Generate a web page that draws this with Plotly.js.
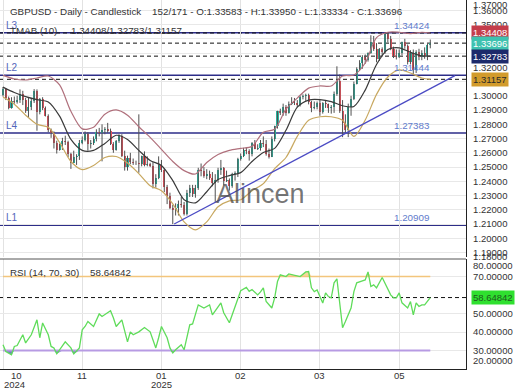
<!DOCTYPE html>
<html>
<head>
<meta charset="utf-8">
<script src="https://cdn.plot.ly/plotly-3.0.1.min.js"></script>
<style>
html,body{margin:0;padding:0;background:#ffffff;}
#chart{width:520px;height:390px;}
</style>
</head>
<body>
<div id="chart"></div>
<script>
// ---------------- DATA ----------------
const opens = [1.3005,1.3050,1.2985,1.2917,1.2965,1.2960,1.2970,1.3012,1.2970,1.2895,
1.2918,1.2963,1.3035,1.2885,1.2975,1.2915,1.2860,1.2760,1.2740,1.2670,
1.2620,1.2660,1.2680,1.2675,1.2590,1.2530,1.2570,1.2575,1.2670,1.2690,
1.2735,1.2660,1.2670,1.2700,1.2745,1.2740,1.2760,1.2765,1.2755,1.2665,
1.2620,1.2685,1.2715,1.2580,1.2500,1.2565,1.2535,1.2530,1.2528,1.2520,
1.2575,1.2515,1.2518,1.2510,1.2380,1.2420,1.2515,1.2480,1.2360,1.2300,
1.2210,1.2200,1.2210,1.2240,1.2235,1.2170,1.2320,1.2350,1.2310,1.2350,
1.2480,1.2470,1.2440,1.2450,1.2420,1.2390,1.2410,1.2480,1.2490,1.2400,
1.2410,1.2370,1.2450,1.2455,1.2560,1.2580,1.2620,1.2610,1.2590,1.2670,
1.2630,1.2635,1.2670,1.2665,1.2590,1.2570,1.2700,1.2790,1.2890,1.2880,
1.2920,1.2880,1.2940,1.2960,1.2950,1.2935,1.2990,1.3000,1.3005,1.2960,
1.2915,1.2920,1.2950,1.2885,1.2950,1.2945,1.2915,1.2918,1.3010,1.3105,
1.2890,1.2810,1.2760,1.2920,1.2975,1.3085,1.3190,1.3230,1.3270,1.3250,
1.3300,1.3380,1.3330,1.3255,1.3325,1.3310,1.3435,1.3400,1.3330,1.3280,
1.3270,1.3300,1.3375,1.3350,1.3240,1.3300,1.3180,1.3310,1.3270,1.3300,
1.3280,1.33583];
const highs = [1.3062,1.3055,1.2995,1.2990,1.2995,1.3000,1.3045,1.3035,1.2985,1.2990,
1.2985,1.3047,1.3045,1.2985,1.2990,1.2925,1.2870,1.2770,1.2750,1.2685,
1.2665,1.2705,1.2720,1.2685,1.2600,1.2615,1.2590,1.2690,1.2715,1.2750,
1.2745,1.2690,1.2715,1.2765,1.2775,1.2800,1.2780,1.2810,1.2770,1.2675,
1.2690,1.2730,1.2730,1.2615,1.2580,1.2600,1.2560,1.2545,1.2870,1.2580,
1.2610,1.2575,1.2530,1.2535,1.2450,1.2575,1.2550,1.2490,1.2375,1.2320,
1.2235,1.2245,1.2265,1.2290,1.2255,1.2340,1.2375,1.2375,1.2375,1.2495,
1.2525,1.2500,1.2485,1.2475,1.2465,1.2450,1.2495,1.2550,1.2500,1.2475,
1.2420,1.2460,1.2470,1.2565,1.2595,1.2635,1.2640,1.2625,1.2675,1.2690,
1.2660,1.2690,1.2715,1.2690,1.2630,1.2715,1.2790,1.2895,1.2910,1.2945,
1.2935,1.2960,1.2990,1.2985,1.2970,1.3000,1.3010,1.3015,1.3015,1.2965,
1.2960,1.2960,1.2970,1.2955,1.2965,1.2945,1.2935,1.3030,1.3207,1.3150,
1.2970,1.2870,1.2945,1.3000,1.3100,1.3200,1.3250,1.3285,1.3290,1.3305,
1.3425,1.3420,1.3370,1.3335,1.3340,1.3443,1.3440,1.3420,1.3345,1.3325,
1.3325,1.3380,1.3400,1.3360,1.3320,1.3325,1.3320,1.3330,1.3320,1.3340,
1.3365,1.33950];
const lows = [1.2995,1.2970,1.2905,1.2910,1.2945,1.2945,1.2950,1.2935,1.2880,1.2845,
1.2900,1.2950,1.2755,1.2870,1.2900,1.2855,1.2745,1.2705,1.2630,1.2595,
1.2615,1.2620,1.2655,1.2570,1.2487,1.2530,1.2515,1.2550,1.2660,1.2680,
1.2615,1.2630,1.2655,1.2680,1.2715,1.2540,1.2730,1.2740,1.2655,1.2600,
1.2615,1.2670,1.2570,1.2475,1.2475,1.2520,1.2515,1.2515,1.2460,1.2505,
1.2505,1.2505,1.2500,1.2350,1.2355,1.2415,1.2465,1.2325,1.2240,1.2205,
1.2100,1.2160,1.2160,1.2215,1.2160,1.2160,1.2290,1.2290,1.2285,1.2340,
1.2435,1.2425,1.2415,1.2410,1.2365,1.2250,1.2390,1.2445,1.2370,1.2395,
1.2335,1.2355,1.2405,1.2430,1.2545,1.2570,1.2590,1.2545,1.2575,1.2625,
1.2620,1.2615,1.2640,1.2580,1.2560,1.2570,1.2680,1.2770,1.2865,1.2860,
1.2860,1.2875,1.2935,1.2935,1.2920,1.2925,1.2975,1.2965,1.2940,1.2885,
1.2905,1.2905,1.2860,1.2875,1.2915,1.2880,1.2875,1.2880,1.3000,1.2880,
1.2710,1.2740,1.2710,1.2860,1.2970,1.3080,1.3175,1.3190,1.3225,1.3240,
1.3295,1.3315,1.3235,1.3245,1.3275,1.3295,1.3375,1.3320,1.3265,1.3255,
1.3265,1.3285,1.3330,1.3220,1.3220,1.3140,1.3160,1.3250,1.3250,1.3260,
1.3250,1.33334];
const closes = [1.3050,1.2985,1.2917,1.2965,1.2960,1.2970,1.3012,1.2970,1.2895,1.2918,
1.2963,1.3035,1.2885,1.2975,1.2915,1.2860,1.2760,1.2740,1.2670,1.2620,
1.2660,1.2680,1.2675,1.2590,1.2530,1.2570,1.2575,1.2670,1.2690,1.2735,
1.2660,1.2670,1.2700,1.2745,1.2740,1.2760,1.2765,1.2755,1.2665,1.2620,
1.2685,1.2715,1.2580,1.2500,1.2565,1.2535,1.2530,1.2528,1.2520,1.2575,
1.2515,1.2518,1.2510,1.2380,1.2420,1.2515,1.2480,1.2360,1.2300,1.2210,
1.2200,1.2210,1.2240,1.2235,1.2170,1.2320,1.2350,1.2310,1.2350,1.2480,
1.2470,1.2440,1.2450,1.2420,1.2390,1.2410,1.2480,1.2490,1.2400,1.2410,
1.2370,1.2450,1.2455,1.2560,1.2580,1.2620,1.2610,1.2590,1.2670,1.2630,
1.2635,1.2670,1.2665,1.2590,1.2570,1.2700,1.2790,1.2890,1.2880,1.2920,
1.2880,1.2940,1.2960,1.2950,1.2935,1.2990,1.3000,1.3005,1.2960,1.2915,
1.2920,1.2950,1.2885,1.2950,1.2945,1.2915,1.2918,1.3010,1.3105,1.2890,
1.2810,1.2760,1.2920,1.2975,1.3085,1.3190,1.3230,1.3270,1.3250,1.3300,
1.3380,1.3330,1.3255,1.3325,1.3310,1.3435,1.3400,1.3330,1.3280,1.3270,
1.3300,1.3375,1.3350,1.3240,1.3300,1.3180,1.3310,1.3270,1.3300,1.3280,
1.3360,1.33696];

// TMAB (10) bands, read at these bar positions
const bandIdx = [0,4,8,12,16,20,24,28,32,36,40,44,48,52,56,60,64,68,72,76,80,84,88,92,96,100,104,108,112,116,120,124,128,132,136,140,144,148,151];
const bandUpper = [1.3143,1.3118,1.3111,1.3125,1.3139,1.3076,1.2891,1.2768,1.2779,1.2871,1.2901,1.2864,1.2783,1.2708,1.2624,1.2539,1.2475,1.2451,1.2532,1.2588,1.2617,1.2631,1.2645,1.2744,1.2765,1.2906,1.2984,1.3054,1.3069,1.3069,1.3139,1.3146,1.3230,1.3408,1.3446,1.3446,1.3436,1.3446,1.34408];
const bandMid = [1.3061,1.3023,1.2994,1.2973,1.2956,1.2857,1.2694,1.2617,1.2617,1.2666,1.2723,1.2694,1.2617,1.2546,1.2511,1.2405,1.2271,1.2249,1.2327,1.2412,1.2440,1.2461,1.2539,1.2602,1.2631,1.2758,1.2920,1.2970,1.2973,1.2959,1.2930,1.2925,1.3040,1.3220,1.3325,1.3337,1.3305,1.3280,1.32783];
const bandLower = [1.2991,1.2941,1.2864,1.2800,1.2779,1.2673,1.2539,1.2482,1.2511,1.2567,1.2574,1.2528,1.2454,1.2369,1.2334,1.2242,1.2115,1.2059,1.2115,1.2221,1.2263,1.2271,1.2334,1.2384,1.2489,1.2567,1.2715,1.2828,1.2853,1.2853,1.2828,1.2715,1.2830,1.3010,1.3132,1.3182,1.3160,1.3125,1.31157];

// RSI(14)
const rsiIdx = [0,1,3,4,5,7,8,10,12,13,14,16,17,18,19,21,22,24,25,27,28,29,30,32,34,35,37,38,39,40,42,44,45,46,48,50,52,54,55,56,58,59,60,61,63,64,66,67,69,71,73,74,77,78,80,82,83,84,86,87,88,90,91,92,93,95,96,97,98,99,100,101,103,105,107,108,109,110,111,113,114,115,116,117,118,119,120,121,123,124,125,127,128,129,130,131,132,134,135,137,138,139,140,141,143,144,145,146,147,148,149,151];
const rsiVal = [33.1,29.5,27.7,32.2,32.7,38.5,34.1,38.5,46.6,36.9,44.9,38.5,32.2,31.4,28.2,32.2,34.7,31.4,28.2,31.4,41.2,43,45.7,43,49.8,48.4,50.4,51.5,47.7,43,46.6,34.7,40.1,38.5,40.1,42.4,40.1,31.4,36.9,43,36.9,31.4,28.7,30.4,33.1,30.4,43.9,44.4,54.7,53,54.7,49.3,55.8,50.4,45,53.6,58.5,62.3,64.1,62,63,60.1,61.7,63.9,56.5,53,58.5,67.3,70.9,70.5,70,71.4,70.9,70,72.5,72.7,63.9,61.9,62.8,55.7,61.2,59.2,58.5,66.6,68.8,56.5,42.3,45.7,53,61.9,66.6,67.7,68.2,72.5,64.6,65.5,63.9,69.5,66.6,60.1,58.5,58.5,61.2,55.8,53,56.5,49.3,55.8,53.8,54.7,54.7,58.64842];
const rsiLevels = [70, 30];
const rsiNow = 58.64842;

// drawing objects
const levelVals = [1.34424, 1.31444, 1.27383, 1.20909];
const levelNames = ['L3','L2','L4','L1'];
const levelText = ['1.34424','1.31444','1.27383','1.20909'];
const trendIdx = [60.5, 159.7];
const trendPrice = [1.2100, 1.3142];
const markerVals = [1.34408, 1.33696, 1.32783, 1.31157];
const markerText = ['1.34408','1.33696','1.32783','1.31157'];

// axes labels (the 1.31/1.33/1.34 labels sit hidden behind the value boxes)
const priceTicks = [1.19,1.20,1.21,1.22,1.23,1.24,1.25,1.26,1.27,1.28,1.29,1.30,1.31,1.32,1.33,1.34,1.35,1.36];
const priceTickText = ['1.19000','1.20000','1.21000','1.22000','1.23000','1.24000','1.25000','1.26000','1.27000','1.28000','1.29000','1.30000','','1.32000','','','1.35000','1.36000'];
const rsiTicks = [30,40,50,70];
const rsiTickText = ['30.00000','40.00000','50.00000','70.00000'];
const tickIdx = [0,28,56,84,112,140];
const tickMonth = ['10','11','01','02','03','05'];
const tickYear = ['2024','','2025','','',''];

const headerText = 'GBPUSD - Daily - Candlestick\u00a0\u00a0\u00a0 152/171 - O:1.33583 - H:1.33950 - L:1.33334 - C:1.33696';
const tmabText = 'TMAB (10)\u00a0\u00a0\u00a0\u00a0 1.34408/1.32783/1.31157';
const rsiText = 'RSI (14, 70, 30)\u00a0\u00a0\u00a0 58.64842';

// ---------------- STYLE / LAYOUT ----------------
const W = 520, H = 390, M = {l:0, r:54, t:0, b:21};
const plotH = H - M.t - M.b;       // 369
const plotW = W - M.l - M.r;       // 466
const py = p => 1 - p / plotH;     // pixel row -> paper y
const pxp = p => p / plotW;        // pixel column -> paper x
const mainBot = py(257), rsiTop = py(259);

const FONT = 'Liberation Sans, Arial, sans-serif';
const upCol = '#2bb39f', dnCol = '#e8505b';
const markerBg = ['#c43d4b','#3fc2b0','#1c2a6b','#d29b2c'];
const markerFg = ['#ffffff','#ffffff','#ffffff','#2a2a2a'];

const idx = opens.map((_, i) => i);
const bodyBase = idx.map(i => Math.min(opens[i], closes[i]));
const bodyLen = idx.map(i => Math.max(Math.abs(closes[i] - opens[i]), 0.00015));
const bodyCol = idx.map(i => closes[i] >= opens[i] ? upCol : dnCol);
const wx = [], wy = [];
idx.forEach(i => { wx.push(i, i, null); wy.push(lows[i], highs[i], null); });

const rsiLow = rsiVal.map(v => Math.min(v, rsiLevels[1]));
const rsiHigh = rsiVal.map(v => Math.max(v, rsiLevels[0]));
const first = idx[0], last = idx[idx.length - 1];

const traces = [
  {type:'scatter', mode:'lines', x:wx, y:wy, line:{color:'#505050', width:1}, hoverinfo:'skip', xaxis:'x', yaxis:'y'},
  {type:'bar', x:idx, y:bodyLen, base:bodyBase, width:0.72, marker:{color:bodyCol, line:{width:0}}, hoverinfo:'skip', xaxis:'x', yaxis:'y'},
  {type:'scatter', mode:'lines', x:bandIdx, y:bandUpper, line:{color:'#b0707c', width:1.2, shape:'spline', smoothing:0.8}, hoverinfo:'skip', xaxis:'x', yaxis:'y'},
  {type:'scatter', mode:'lines', x:bandIdx, y:bandMid, line:{color:'#3a3a3a', width:1.2, shape:'spline', smoothing:0.8}, hoverinfo:'skip', xaxis:'x', yaxis:'y'},
  {type:'scatter', mode:'lines', x:bandIdx, y:bandLower, line:{color:'#c8a860', width:1.2, shape:'spline', smoothing:0.8}, hoverinfo:'skip', xaxis:'x', yaxis:'y'},
  {type:'scatter', mode:'lines', x:trendIdx, y:trendPrice, line:{color:'#4b4bc4', width:1.3}, hoverinfo:'skip', xaxis:'x', yaxis:'y'},
  // RSI fills
  {type:'scatter', mode:'lines', x:rsiIdx, y:rsiIdx.map(() => rsiLevels[1]), line:{width:0}, hoverinfo:'skip', xaxis:'x', yaxis:'y2'},
  {type:'scatter', mode:'lines', x:rsiIdx, y:rsiLow, fill:'tonexty', fillcolor:'rgba(85,110,175,0.85)', line:{width:0}, hoverinfo:'skip', xaxis:'x', yaxis:'y2'},
  {type:'scatter', mode:'lines', x:rsiIdx, y:rsiIdx.map(() => rsiLevels[0]), line:{width:0}, hoverinfo:'skip', xaxis:'x', yaxis:'y2'},
  {type:'scatter', mode:'lines', x:rsiIdx, y:rsiHigh, fill:'tonexty', fillcolor:'rgba(240,190,90,0.6)', line:{width:0}, hoverinfo:'skip', xaxis:'x', yaxis:'y2'},
  {type:'scatter', mode:'lines', x:[first, last], y:[rsiLevels[0], rsiLevels[0]], line:{color:'#f3c57c', width:1.6}, hoverinfo:'skip', xaxis:'x', yaxis:'y2'},
  {type:'scatter', mode:'lines', x:[first, last], y:[rsiLevels[1], rsiLevels[1]], line:{color:'#b79be3', width:1.8}, hoverinfo:'skip', xaxis:'x', yaxis:'y2'},
  {type:'scatter', mode:'lines', x:rsiIdx, y:rsiVal, line:{color:'#5fdc5a', width:1.3}, hoverinfo:'skip', xaxis:'x', yaxis:'y2'}
];

const shapes = [];
levelVals.forEach(v => shapes.push({type:'line', xref:'paper', x0:0, x1:1, yref:'y', y0:v, y1:v, line:{color:'#2d2d88', width:1.5}, layer:'below'}));
markerVals.forEach(v => shapes.push({type:'line', xref:'paper', x0:0, x1:1, yref:'y', y0:v, y1:v, line:{color:'#111111', width:1, dash:'4px,3px'}, layer:'below'}));
shapes.push({type:'line', xref:'paper', x0:0, x1:1, yref:'y2', y0:rsiNow, y1:rsiNow, line:{color:'#111111', width:1, dash:'4px,3px'}, layer:'below'});
shapes.push({type:'line', xref:'paper', x0:0, x1:1, yref:'paper', y0:rsiTop, y1:rsiTop, line:{color:'#555555', width:1}});

const ann = [];
const tf = (size, color) => ({family:FONT, size:size, color:color});
ann.push({xref:'paper', yref:'paper', x:0, y:py(11), xshift:8, xanchor:'left', yanchor:'middle', text:headerText, showarrow:false, font:tf(9.8,'#333333')});
levelVals.forEach((v, k) => {
  ann.push({xref:'paper', yref:'y', x:0, y:v, xshift:4, xanchor:'left', yanchor:'bottom', text:levelNames[k], showarrow:false, font:tf(10,'#5466bb')});
  ann.push({xref:'paper', yref:'y', x:pxp(392), y:v, xanchor:'left', yanchor:'bottom', text:levelText[k], showarrow:false, font:tf(9.8,'#5f7ccc')});
});
ann.push({xref:'paper', yref:'paper', x:0, y:py(30), xshift:8, xanchor:'left', yanchor:'middle', text:tmabText, showarrow:false, font:tf(9.8,'#333333')});
ann.push({xref:'paper', yref:'paper', x:0, y:py(272), xshift:8, xanchor:'left', yanchor:'middle', text:rsiText, showarrow:false, font:tf(9.8,'#333333')});
ann.push({xref:'paper', yref:'paper', x:pxp(260), y:py(194), xanchor:'center', yanchor:'middle', text:'Alincen', showarrow:false, font:{family:FONT, size:27, color:'rgba(80,80,80,0.78)'}});
// right-hand value boxes
markerVals.forEach((v, k) => ann.push({xref:'paper', yref:'y', x:1, y:v, xshift:5, xanchor:'left', yanchor:'middle', text:markerText[k], showarrow:false, bgcolor:markerBg[k], borderpad:1, font:tf(9.5, markerFg[k])}));
ann.push({xref:'paper', yref:'y2', x:1, y:rsiNow, xshift:5, xanchor:'left', yanchor:'middle', text:rsiNow.toFixed(5), showarrow:false, bgcolor:'#2fe02f', borderpad:1, font:tf(9.5,'#1d5a1d')});
// edge labels of the axes
ann.push({xref:'paper', yref:'paper', x:1, y:py(5), xshift:5, xanchor:'left', yanchor:'middle', text:'1.37000', showarrow:false, font:tf(9.5,'#333333')});
ann.push({xref:'paper', yref:'paper', x:1, y:py(256), xshift:5, xanchor:'left', yanchor:'middle', text:'1.18000', showarrow:false, font:tf(9.5,'#333333')});
ann.push({xref:'paper', yref:'paper', x:1, y:py(265), xshift:5, xanchor:'left', yanchor:'middle', text:'80.00000', showarrow:false, font:tf(9.5,'#333333')});
ann.push({xref:'paper', yref:'paper', x:1, y:py(360), xshift:5, xanchor:'left', yanchor:'middle', text:'20.00000', showarrow:false, font:tf(9.5,'#333333')});
// x labels
tickIdx.forEach((t, k) => {
  const anchor = k === 0 ? 'left' : 'center';
  ann.push({xref:'x', yref:'paper', x:t, y:py(375), xshift: k === 0 ? 6 : 0, xanchor:anchor, yanchor:'middle', text:tickMonth[k], showarrow:false, font:tf(9.5,'#333333')});
  if (tickYear[k]) ann.push({xref:'x', yref:'paper', x:t, y:py(384), xshift: k === 0 ? -1 : 0, xanchor:anchor, yanchor:'middle', text:tickYear[k], showarrow:false, font:tf(9.5,'#333333')});
});

const layout = {
  width:W, height:H, margin:M, paper_bgcolor:'#ffffff', plot_bgcolor:'#ffffff',
  showlegend:false, barmode:'overlay', bargap:0, hovermode:false,
  font:{family:FONT, size:9.5, color:'#333333'},
  xaxis:{domain:[0,1], range:[-1.06,163.62], anchor:'y2', tickvals:tickIdx, ticktext:tickIdx.map(() => ''),
         showgrid:true, gridcolor:'#e2e2e2', gridwidth:1, showline:true, linecolor:'#222222', linewidth:1.2,
         ticks:'', zeroline:false, fixedrange:true},
  yaxis:{domain:[mainBot,1], range:[1.18688,1.36723], side:'right', anchor:'x', tickvals:priceTicks, ticktext:priceTickText,
         showgrid:true, gridcolor:'#e8e8e8', showline:true, linecolor:'#222222', linewidth:1.2, ticks:'', zeroline:false,
         tickfont:{family:FONT, size:9.5, color:'#333333'}, ticklabelstandoff:4},
  yaxis2:{domain:[0,rsiTop], range:[20,79.5], side:'right', anchor:'x', tickvals:rsiTicks, ticktext:rsiTickText,
          showgrid:true, gridcolor:'#e8e8e8', showline:true, linecolor:'#222222', linewidth:1.2, ticks:'', zeroline:false,
          tickfont:{family:FONT, size:9.5, color:'#333333'}, ticklabelstandoff:4},
  shapes:shapes, annotations:ann
};

Plotly.newPlot('chart', traces, layout, {displayModeBar:false, staticPlot:true});
</script>
</body>
</html>
